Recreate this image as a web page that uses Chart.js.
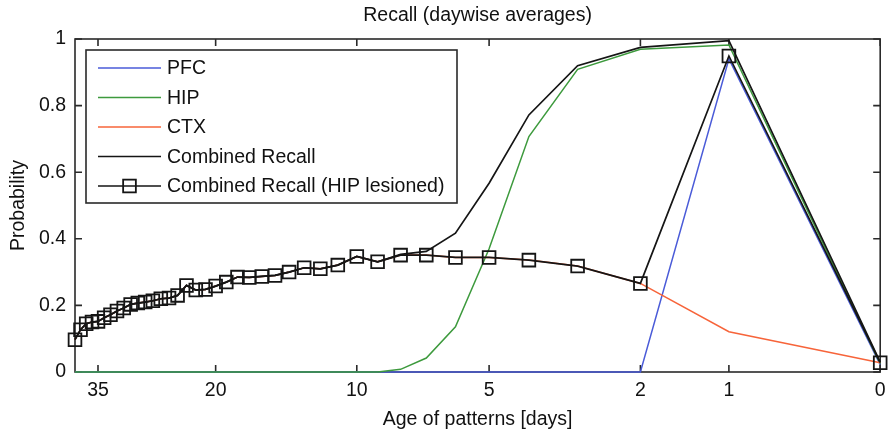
<!DOCTYPE html>
<html>
<head>
<meta charset="utf-8">
<script src="https://cdn.jsdelivr.net/npm/chart.js@4.4.1/dist/chart.umd.min.js"></script>
<style>
  html, body { margin: 0; padding: 0; background: #fff; }
  #wrap { width: 891px; height: 434px; }
</style>
</head>
<body>
<div id="wrap"><canvas id="recallChart" width="891" height="434"></canvas></div>
<script>
// Age of the stored patterns in days (0 = most recent)
const ages = [0, 1, 2, 3, 4, 5, 6, 7, 8, 9, 10, 11, 12, 13, 14, 15, 16, 17, 18, 19,
              20, 21, 22, 23, 24, 25, 26, 27, 28, 29, 30, 31, 32, 33, 34, 35, 36, 37, 38, 39];
const ageTicks = [0, 1, 2, 5, 10, 20, 35];
const probTicks = [0, 0.2, 0.4, 0.6, 0.8, 1];

// Recall probability per age, one array per curve
const pfc = [0.022, 0.940, 0, 0, 0, 0, 0, 0, 0, 0,
             0, 0, 0, 0, 0, 0, 0, 0, 0, 0,
             0, 0, 0, 0, 0, 0, 0, 0, 0, 0,
             0, 0, 0, 0, 0, 0, 0, 0, 0, 0];
const hip = [0.025, 0.982, 0.969, 0.909, 0.707, 0.370, 0.136, 0.042, 0.008, 0,
             0, 0, 0, 0, 0, 0, 0, 0, 0, 0,
             0, 0, 0, 0, 0, 0, 0, 0, 0, 0,
             0, 0, 0, 0, 0, 0, 0, 0, 0, 0];
const ctxRecall = [0.028, 0.121, 0.266, 0.318, 0.336, 0.344, 0.344, 0.351, 0.351, 0.331,
                   0.347, 0.321, 0.310, 0.313, 0.300, 0.290, 0.287, 0.284, 0.285, 0.270,
                   0.258, 0.248, 0.246, 0.260, 0.230, 0.222, 0.220, 0.214, 0.210, 0.207,
                   0.203, 0.192, 0.183, 0.172, 0.163, 0.152, 0.150, 0.145, 0.127, 0.097];
const combined = [0.030, 0.995, 0.975, 0.920, 0.772, 0.567, 0.417, 0.362, 0.353, 0.331,
                  0.347, 0.321, 0.310, 0.313, 0.300, 0.290, 0.287, 0.284, 0.285, 0.270,
                  0.258, 0.248, 0.246, 0.260, 0.230, 0.222, 0.220, 0.214, 0.210, 0.207,
                  0.203, 0.192, 0.183, 0.172, 0.163, 0.152, 0.150, 0.145, 0.127, 0.097];
const lesioned = [0.028, 0.949, 0.266, 0.318, 0.336, 0.344, 0.344, 0.351, 0.351, 0.331,
                  0.347, 0.321, 0.310, 0.313, 0.300, 0.290, 0.287, 0.284, 0.285, 0.270,
                  0.258, 0.248, 0.246, 0.260, 0.230, 0.222, 0.220, 0.214, 0.210, 0.207,
                  0.203, 0.192, 0.183, 0.172, 0.163, 0.152, 0.150, 0.145, 0.127, 0.097];

const FONT = '"Liberation Sans", Arial, sans-serif';
const FONT_SIZE = 19.5;
const AXIS_COLOR = '#2a2a2a';

// x axis spaced by log(1 + age)
class Log1pScale extends Chart.LinearScale {
    configure() {
        super.configure();
        this._startValue = Math.log1p(this.min);
        this._valueRange = Math.log1p(this.max) - this._startValue;
    }
    getPixelForValue(value) {
        return this.getPixelForDecimal((Math.log1p(value) - this._startValue) / this._valueRange);
    }
    getValueForPixel(pixel) {
        return Math.expm1(this._startValue + this.getDecimalForPixel(pixel) * this._valueRange);
    }
}
Log1pScale.id = 'log1p';
Log1pScale.defaults = {};
Chart.register(Log1pScale);

const toPoints = (values) => ages.map((a, i) => ({ x: a, y: values[i] }));

const line = (label, values, color, width, order, extra) => Object.assign({
    label: label,
    data: toPoints(values),
    borderColor: color,
    backgroundColor: color,
    borderWidth: width,
    pointRadius: 0,
    tension: 0,
    clip: false,
    order: order
}, extra || {});

// axes box with inward tick marks, drawn under the curves
const axesBox = {
    id: 'axesBox',
    beforeDatasetsDraw(chart) {
        const { ctx, chartArea: a, scales: { x, y } } = chart;
        const tick = 7;
        ctx.save();
        ctx.strokeStyle = AXIS_COLOR;
        ctx.lineWidth = 1.6;
        ctx.strokeRect(a.left, a.top, a.right - a.left, a.bottom - a.top);
        ctx.beginPath();
        ageTicks.forEach(v => {
            const px = x.getPixelForValue(v);
            ctx.moveTo(px, a.bottom); ctx.lineTo(px, a.bottom - tick);
            ctx.moveTo(px, a.top); ctx.lineTo(px, a.top + tick);
        });
        probTicks.forEach(v => {
            const py = y.getPixelForValue(v);
            ctx.moveTo(a.left, py); ctx.lineTo(a.left + tick, py);
            ctx.moveTo(a.right, py); ctx.lineTo(a.right - tick, py);
        });
        ctx.stroke();
        ctx.restore();
    }
};

// title over the axes and a boxed legend inside the plot
const overlay = {
    id: 'overlay',
    afterDatasetsDraw(chart) {
        const { ctx, chartArea: a } = chart;
        ctx.save();
        ctx.font = FONT_SIZE + 'px ' + FONT;
        ctx.fillStyle = '#111';
        ctx.textAlign = 'center';
        ctx.textBaseline = 'middle';
        ctx.fillText('Recall (daywise averages)', (a.left + a.right) / 2, 16);

        const box = { x: a.left + 11, y: a.top + 11, w: 371, h: 153 };
        ctx.fillStyle = '#fff';
        ctx.fillRect(box.x, box.y, box.w, box.h);
        ctx.strokeStyle = AXIS_COLOR;
        ctx.lineWidth = 1.6;
        ctx.strokeRect(box.x, box.y, box.w, box.h);

        ctx.textAlign = 'left';
        chart.data.datasets.forEach((ds, i) => {
            const rowY = box.y + 18 + i * 29.5;
            const x0 = box.x + 12, x1 = box.x + 75;
            ctx.strokeStyle = ds.borderColor;
            ctx.lineWidth = ds.borderWidth;
            ctx.beginPath();
            ctx.moveTo(x0, rowY);
            ctx.lineTo(x1, rowY);
            ctx.stroke();
            if (ds.pointRadius > 0) {
                const s = ds.pointRadius * Math.SQRT1_2;
                ctx.lineWidth = ds.pointBorderWidth;
                ctx.strokeRect((x0 + x1) / 2 - s, rowY - s, 2 * s, 2 * s);
            }
            ctx.fillStyle = '#111';
            ctx.fillText(ds.label, box.x + 81, rowY + 1);
        });
        ctx.restore();
    }
};

new Chart(document.getElementById('recallChart'), {
    type: 'line',
    data: {
        datasets: [
            line('PFC', pfc, '#4a5bd8', 1.5, 5),
            line('HIP', hip, '#3d9a3d', 1.5, 4),
            line('CTX', ctxRecall, '#f7643a', 1.5, 3),
            line('Combined Recall', combined, '#151515', 1.7, 2),
            line('Combined Recall (HIP lesioned)', lesioned, '#151515', 1.7, 1, {
                pointStyle: 'rect',
                pointRadius: 9,
                pointBorderWidth: 1.8,
                pointBorderColor: '#151515',
                pointBackgroundColor: 'rgba(0,0,0,0)'
            })
        ]
    },
    options: {
        responsive: false,
        animation: false,
        events: [],
        layout: { padding: { top: 39, right: 7, left: 0, bottom: 0 } },
        plugins: {
            legend: { display: false },
            title: { display: false },
            tooltip: { enabled: false }
        },
        scales: {
            x: {
                type: 'log1p',
                reverse: true,
                min: 0,
                max: 39,
                grid: { display: false, drawTicks: false },
                border: { display: false },
                afterBuildTicks: (scale) => { scale.ticks = ageTicks.map(v => ({ value: v })); },
                afterFit: (scale) => { scale.height = 62; },
                ticks: {
                    autoSkip: false,
                    maxRotation: 0,
                    padding: 7,
                    color: '#111',
                    font: { family: FONT, size: FONT_SIZE },
                    callback: (v) => String(v)
                },
                title: {
                    display: true,
                    text: 'Age of patterns [days]',
                    color: '#111',
                    font: { family: FONT, size: FONT_SIZE },
                    padding: { top: 0, bottom: 3 }
                }
            },
            y: {
                min: 0,
                max: 1,
                grid: { display: false, drawTicks: false },
                border: { display: false },
                afterBuildTicks: (scale) => { scale.ticks = probTicks.map(v => ({ value: v })); },
                afterFit: (scale) => { scale.width = 75; },
                ticks: {
                    padding: 9,
                    color: '#111',
                    font: { family: FONT, size: FONT_SIZE },
                    callback: (v) => String(v)
                },
                title: {
                    display: true,
                    text: 'Probability',
                    color: '#111',
                    font: { family: FONT, size: FONT_SIZE },
                    padding: { top: 7, bottom: 0 }
                }
            }
        }
    },
    plugins: [axesBox, overlay]
});
</script>
</body>
</html>
